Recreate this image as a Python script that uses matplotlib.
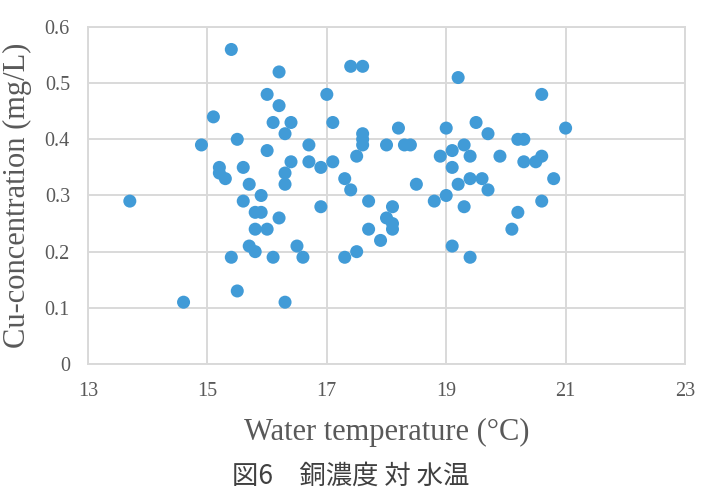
import matplotlib
matplotlib.use("Agg")
import matplotlib.pyplot as plt

water_temp = [13.7, 14.6, 14.9, 15.1, 15.4, 15.2, 15.2, 15.3, 15.5, 15.4, 15.5, 15.6, 15.6, 15.7, 15.7,
              15.8, 15.8, 15.8, 15.9, 15.9, 16.0, 16.0, 16.0, 16.1, 16.2, 16.2, 16.2, 16.1, 16.3, 16.4,
              16.3, 16.3, 16.4, 16.3, 16.5, 16.6, 16.7, 16.7, 16.9, 16.9, 17.0, 17.1, 17.1, 17.3, 17.3,
              17.4, 17.4, 17.6, 17.5, 17.5, 17.6, 17.6, 17.6, 17.7, 17.7, 17.9, 18.0, 18.0, 18.1, 18.1,
              18.1, 18.2, 18.3, 18.4, 18.5, 18.8, 18.9, 19.0, 19.0, 19.1, 19.1, 19.1, 19.2, 19.2, 19.3,
              19.3, 19.4, 19.4, 19.4, 19.5, 19.6, 19.7, 19.7, 19.9, 20.1, 20.2, 20.2, 20.3, 20.3, 20.5,
              20.6, 20.6, 20.6, 20.8, 21.0]
cu_conc = [0.29, 0.11, 0.39, 0.44, 0.56, 0.35, 0.34, 0.33, 0.40, 0.19, 0.13, 0.35, 0.29, 0.32, 0.21,
           0.27, 0.24, 0.20, 0.30, 0.27, 0.48, 0.38, 0.24, 0.43, 0.52, 0.46, 0.26, 0.19, 0.41, 0.43,
           0.34, 0.32, 0.36, 0.11, 0.21, 0.19, 0.39, 0.36, 0.35, 0.28, 0.48, 0.36, 0.43, 0.33, 0.19,
           0.31, 0.53, 0.53, 0.37, 0.20, 0.41, 0.40, 0.39, 0.29, 0.24, 0.22, 0.39, 0.26, 0.28, 0.25,
           0.24, 0.42, 0.39, 0.39, 0.32, 0.29, 0.37, 0.42, 0.30, 0.35, 0.38, 0.21, 0.51, 0.32, 0.39,
           0.28, 0.37, 0.33, 0.19, 0.43, 0.33, 0.41, 0.31, 0.37, 0.24, 0.27, 0.40, 0.40, 0.36, 0.36,
           0.37, 0.48, 0.29, 0.33, 0.42]

x_ticks = [13, 15, 17, 19, 21, 23]
y_ticks = [0, 0.1, 0.2, 0.3, 0.4, 0.5, 0.6]
y_tick_labels = ["0", "0.1", "0.2", "0.3", "0.4", "0.5", "0.6"]
x_label = "Water temperature (°C)"
y_label = "Cu-concentration (mg/L)"
caption = "図6　銅濃度 対 水温"

text_color = "#595959"
grid_color = "#d9d9d9"
serif = ["Liberation Serif", "DejaVu Serif"]

fig = plt.figure(figsize=(7.02, 4.91), dpi=100)
ax = fig.add_axes([0.1254, 0.2587, 0.8504, 0.6863])

ax.scatter(water_temp, cu_conc, s=88, color="#419BD7", edgecolors="none", zorder=3)

ax.set_xlim(13, 23)
ax.set_ylim(0, 0.6)
ax.set_xticks(x_ticks)
ax.set_yticks(y_ticks)
ax.set_yticklabels(y_tick_labels)
ax.grid(True, color=grid_color, linewidth=1.4)
ax.set_axisbelow(True)
for sp in ax.spines.values():
    sp.set_color(grid_color)
    sp.set_linewidth(1.4)
ax.tick_params(length=0, labelsize=14.5, labelcolor=text_color)
ax.tick_params(axis="x", pad=13)
ax.tick_params(axis="y", pad=13)
for lab in ax.get_xticklabels() + ax.get_yticklabels():
    lab.set_family(serif)

ax.set_xlabel(x_label, fontsize=22, color=text_color, family=serif)
ax.set_ylabel(y_label, fontsize=22, color=text_color, family=serif)
ax.xaxis.set_label_coords(0.5, -0.160)
ax.yaxis.set_label_coords(-0.094, 0.5)

fig.text(0.33, 0.003, caption, fontsize=19, color="#404040",
         family=["Noto Sans CJK JP", "DejaVu Sans"], ha="left", va="bottom")

fig.savefig("out.png", dpi=100)
